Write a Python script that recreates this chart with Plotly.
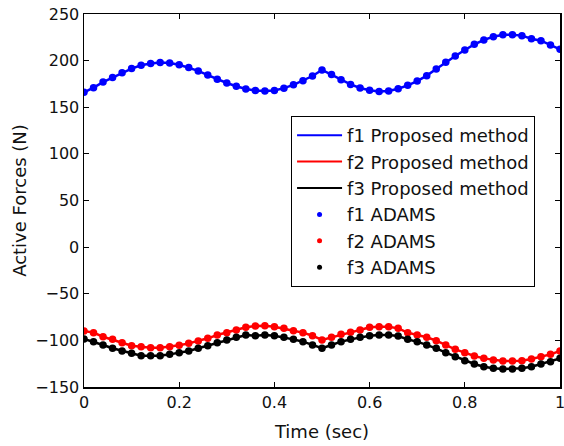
import plotly.graph_objects as go

time = [round(i * 0.02, 2) for i in range(51)]

f1 = [166.0, 171.0, 177.0, 182.0, 187.0, 191.5, 195.0, 197.0, 198.0, 197.5,
      195.5, 192.5, 189.0, 184.5, 180.0, 176.0, 172.5, 169.5, 168.0, 167.5,
      168.0, 170.5, 174.0, 178.5, 183.5, 190.0, 185.0, 179.5, 174.5, 170.7,
      168.3, 167.0, 167.4, 169.9, 173.5, 178.1, 183.9, 191.0, 198.2, 205.0,
      211.4, 217.5, 222.1, 225.7, 227.8, 227.8, 226.8, 223.5, 221.4, 216.8,
      212.1]

f2 = [-89.9, -91.7, -96.1, -98.9, -102.5, -105.7, -106.8, -107.9, -107.9, -106.8,
      -105.3, -103.2, -100.7, -97.8, -94.2, -91.7, -88.9, -86.0, -84.6, -84.2,
      -85.3, -87.1, -89.6, -91.7, -95.0, -99.6, -96.7, -93.5, -91.4, -88.9,
      -86.0, -85.3, -85.3, -87.1, -91.7, -94.2, -96.7, -100.3, -105.0, -109.6,
      -113.2, -116.8, -119.3, -121.1, -122.1, -122.1, -121.8, -120.0, -117.5, -115.0,
      -111.4]

f3 = [-98.5, -101.4, -105.0, -108.5, -111.4, -113.9, -116.4, -116.4, -116.4, -115.0,
      -113.2, -111.4, -108.5, -105.7, -102.5, -99.6, -96.7, -94.2, -95.0, -94.2,
      -95.0, -96.7, -98.9, -101.4, -105.0, -108.5, -105.0, -101.4, -98.9, -96.7,
      -95.0, -94.2, -94.2, -95.3, -98.9, -101.4, -105.0, -108.5, -113.2, -117.5,
      -121.8, -125.3, -128.2, -130.0, -130.7, -130.7, -130.0, -128.2, -125.3, -122.8,
      -119.3]

x_ticks = [0, 0.2, 0.4, 0.6, 0.8, 1]
x_ticklabels = ["0", "0.2", "0.4", "0.6", "0.8", "1"]
y_ticks = [-150, -100, -50, 0, 50, 100, 150, 200, 250]

series = [("f1", f1, "#0000ff"), ("f2", f2, "#ff0000"), ("f3", f3, "#000000")]

fig = go.Figure()
# data traces (not in legend)
for name, vals, col in series:
    fig.add_trace(go.Scatter(x=time, y=vals, mode="lines",
                             line=dict(color=col, width=2.5),
                             name=f"{name} Proposed method", showlegend=False))
for name, vals, col in series:
    fig.add_trace(go.Scatter(x=time, y=vals, mode="markers",
                             marker=dict(color=col, size=7.5),
                             name=f"{name} ADAMS", showlegend=False))
# legend entries (thinner line / smaller dots as in the reference legend)
for name, vals, col in series:
    fig.add_trace(go.Scatter(x=[None], y=[None], mode="lines",
                             line=dict(color=col, width=2),
                             name=f"{name} Proposed method"))
for name, vals, col in series:
    fig.add_trace(go.Scatter(x=[None], y=[None], mode="markers",
                             marker=dict(color=col, size=5),
                             name=f"{name} ADAMS"))

font = "DejaVu Sans, Arial, sans-serif"
txt = "#111111"
axis_common = dict(showline=True, linecolor="black", linewidth=1.5, mirror="ticks",
                   ticks="inside", ticklen=5, tickcolor="black", tickwidth=1,
                   showgrid=False, zeroline=False, automargin=False,
                   ticklabeloverflow="allow",
                   tickfont=dict(family=font, size=16, color=txt))

fig.update_layout(
    width=564, height=446,
    margin=dict(l=84, r=4, t=14, b=59),
    paper_bgcolor="white", plot_bgcolor="white",
    font=dict(family=font, size=18, color=txt),
    showlegend=True,
    hovermode=False,
    legend=dict(x=0.435, y=0.7265, xanchor="left", yanchor="top",
                bgcolor="white", bordercolor="black", borderwidth=1,
                font=dict(family=font, size=18, color=txt),
                itemwidth=45, tracegroupgap=0, itemsizing="trace"),
    xaxis=dict(range=[0, 1], tickvals=x_ticks, ticktext=x_ticklabels,
               title=dict(text="Time (sec)", font=dict(family=font, size=18, color=txt), standoff=14),
               **axis_common),
    yaxis=dict(range=[-150, 250], tickvals=y_ticks,
               title=dict(text="Active Forces (N)", font=dict(family=font, size=18, color=txt), standoff=4),
               **axis_common),
)

fig.write_html("out.html",
               config={"displayModeBar": False, "staticPlot": True},
               post_script="document.body.style.margin='0';document.body.style.overflow='hidden';")
